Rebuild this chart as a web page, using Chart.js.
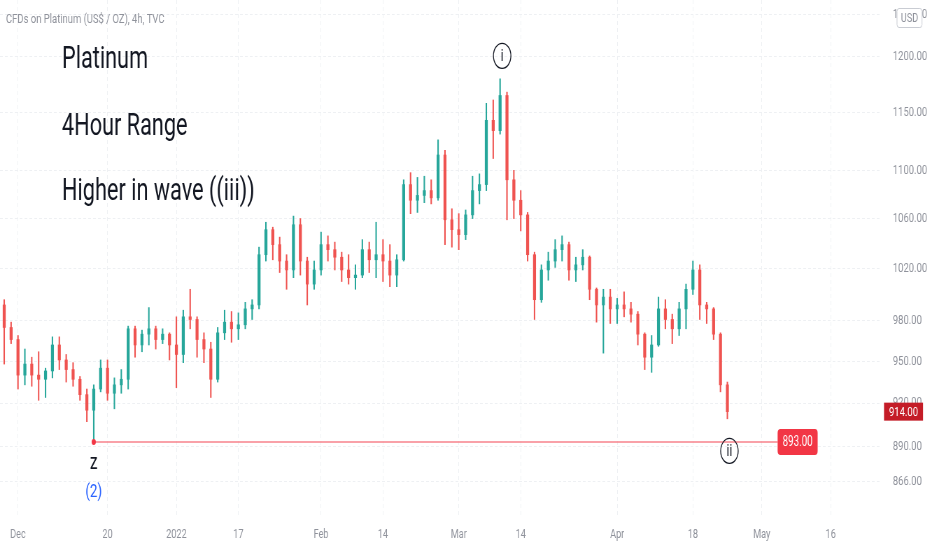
<!DOCTYPE html>
<html>
<head>
<meta charset="utf-8">
<script src="https://cdn.jsdelivr.net/npm/chart.js@4.4.0/dist/chart.umd.min.js"></script>
<style>
html, body { margin: 0; padding: 0; background: #fff; overflow: hidden; }
/* the reference screenshot is squeezed horizontally, so the chart is drawn wider and squeezed back */
#wrap { width: 1332px; height: 550px; transform: scaleX(0.6997); transform-origin: 0 0; }
</style>
</head>
<body>
<div id="wrap"><canvas id="graficoPlatina"></canvas></div>
<script>
// trading days counted from Dec 1 2021 (day 0)
const firstDay = -2;
const open = [992, 975, 966, 940, 948, 940, 937, 943, 962, 951, 944, 937, 926, 915, 930, 945, 927, 933, 937, 974,
  962, 970, 974, 966, 970, 962, 955, 983, 981, 966, 959, 937, 971, 979, 974, 977, 989, 992, 1031, 1051,
  1039, 1026, 1019, 1055, 1026, 1008, 1019, 1039, 1035, 1029, 1019, 1013, 1015, 1035, 1027, 1031, 1026, 1015, 1027, 1088,
  1075, 1079, 1083, 1077, 1113, 1059, 1051, 1047, 1063, 1083, 1088, 1143, 1134, 1165, 1092, 1075, 1063, 1031, 996, 1019,
  1026, 1035, 1039, 1019, 1023, 1029, 1004, 992, 998, 989, 992, 989, 985, 970, 953, 962, 989, 981, 974, 989,
  1004, 1019, 992, 989, 970, 933];
const high = [996, 979, 969, 959, 953, 957, 945, 968, 968, 955, 949, 939, 930, 933, 951, 951, 938, 944, 976, 976,
  973, 990, 976, 974, 971, 983, 988, 1004, 983, 971, 964, 975, 988, 987, 986, 994, 996, 1037, 1057, 1053,
  1045, 1031, 1062, 1060, 1029, 1026, 1049, 1046, 1041, 1033, 1031, 1023, 1043, 1041, 1057, 1043, 1039, 1031, 1092, 1098,
  1094, 1095, 1092, 1126, 1117, 1068, 1064, 1067, 1095, 1097, 1158, 1161, 1180, 1168, 1100, 1083, 1065, 1033, 1023, 1033,
  1043, 1046, 1041, 1029, 1035, 1030, 1005, 1004, 1004, 997, 1002, 994, 987, 971, 969, 998, 996, 985, 994, 1008,
  1026, 1023, 994, 990, 971, 935];
const low = [948, 963, 930, 933, 932, 922, 924, 938, 944, 935, 932, 922, 907, 893, 928, 922, 916, 927, 930, 953,
  957, 962, 959, 963, 951, 931, 949, 974, 953, 949, 924, 935, 966, 964, 966, 974, 981, 989, 1026, 1027,
  1017, 1004, 1013, 1015, 992, 1004, 1015, 1026, 1019, 1010, 1008, 1004, 1013, 1017, 1013, 1010, 1006, 1006, 1026, 1064,
  1065, 1073, 1072, 1075, 1039, 1037, 1035, 1043, 1060, 1072, 1083, 1110, 1131, 1059, 1060, 1050, 1026, 981, 994, 1011,
  1021, 1026, 1011, 1010, 1019, 996, 979, 956, 978, 978, 983, 979, 962, 944, 942, 961, 974, 963, 969, 974,
  1000, 981, 978, 966, 928, 909];
const close = [975, 966, 940, 948, 940, 937, 943, 962, 951, 944, 937, 926, 915, 930, 945, 927, 933, 937, 974, 962,
  970, 974, 966, 970, 962, 955, 983, 981, 966, 959, 937, 971, 979, 974, 977, 989, 992, 1031, 1051, 1039,
  1026, 1019, 1055, 1026, 1008, 1019, 1039, 1035, 1029, 1019, 1013, 1015, 1035, 1027, 1031, 1026, 1015, 1027, 1088, 1075,
  1079, 1083, 1077, 1113, 1059, 1051, 1047, 1063, 1083, 1088, 1143, 1134, 1165, 1092, 1075, 1063, 1031, 996, 1019, 1026,
  1035, 1039, 1019, 1023, 1029, 1004, 992, 998, 989, 992, 989, 985, 970, 953, 962, 989, 981, 974, 989, 1004,
  1019, 992, 989, 970, 933, 914];

const priceTicks = [866, 890, 920, 950, 980, 1020, 1060, 1100, 1150, 1200, 1240];
const dateTickDays = [0, 13, 23, 32, 44, 53, 64, 73, 87, 98, 108, 118];
const dateTickLabels = ['Dec', '20', '2022', '17', 'Feb', '14', 'Mar', '14', 'Apr', '18', 'May', '16'];

const lastPrice = 914;
const swingLow = 893;
const swingLowDay = 11;
const peakDay = 70;
const peakHigh = 1180;
const lineEndDay = 110.3;

const upColor = '#26a69a';
const downColor = '#ef5350';
const fonte = 'Roboto, "DejaVu Sans", sans-serif';
const S = 932 / 1332; // squeeze factor
const px = v => v / S;

const days = close.map((v, i) => firstDay + i);
const corCandle = ctx => close[ctx.dataIndex] >= open[ctx.dataIndex] ? upColor : downColor;

const anotacoes = {
  id: 'anotacoes',
  afterDraw(chart) {
    const c = chart.ctx;
    const xs = chart.scales.x;
    const ys = chart.scales.y;
    c.save();

    c.textAlign = 'left';
    c.textBaseline = 'middle';
    c.fillStyle = '#8f929b';
    c.font = '13.5px ' + fonte;
    c.fillText('CFDs on Platinum (US$ / OZ), 4h, TVC', px(6), 20);

    c.fillStyle = '#131722';
    c.font = '31px ' + fonte;
    c.fillText('Platinum', px(62), 60);
    c.fillText('4Hour Range', px(62), 127);
    c.fillText('Higher in wave ((iii))', px(62), 192);

    // linha do fundo
    const lx = xs.getPixelForValue(swingLowDay);
    const ly = ys.getPixelForValue(swingLow);
    const ex = xs.getPixelForValue(lineEndDay);
    c.strokeStyle = '#f7828b';
    c.lineWidth = 1.5;
    c.beginPath();
    c.moveTo(lx, ly);
    c.lineTo(ex, ly);
    c.stroke();
    c.fillStyle = '#f23645';
    c.beginPath();
    c.arc(lx, ly, 3, 0, Math.PI * 2);
    c.fill();

    c.beginPath();
    c.roundRect(ex, ly - 13, px(40), 26, 4);
    c.fill();
    c.fillStyle = '#fff';
    c.font = '14px ' + fonte;
    c.textAlign = 'center';
    c.fillText(swingLow.toFixed(2), ex + px(20), ly + 1);

    c.fillStyle = '#131722';
    c.font = '22px ' + fonte;
    c.fillText('z', lx, ly + 22);
    c.fillStyle = '#2962ff';
    c.font = '19px ' + fonte;
    c.fillText('(2)', lx, ly + 50);

    // circulos das ondas
    const circulo = (x, y, txt) => {
      c.strokeStyle = '#131722';
      c.lineWidth = 1.3;
      c.beginPath();
      c.arc(x, y, 12.5, 0, Math.PI * 2);
      c.stroke();
      c.fillStyle = '#131722';
      c.font = '17px ' + fonte;
      c.fillText(txt, x, y + 1);
    };
    circulo(xs.getPixelForValue(peakDay + 0.3), ys.getPixelForValue(peakHigh) - 23, 'i');
    circulo(xs.getPixelForValue(days[days.length - 1] + 0.3), ly + 9, 'ii');

    // preco atual
    const py = ys.getPixelForValue(lastPrice);
    c.fillStyle = '#c41c27';
    c.fillRect(px(884), py - 9, px(39), 18);
    c.fillStyle = '#fff';
    c.font = '13.5px ' + fonte;
    c.fillText(lastPrice.toFixed(2), px(903.5), py + 1);

    // USD
    c.fillStyle = '#fff';
    c.strokeStyle = '#c9ccd3';
    c.lineWidth = 1;
    c.beginPath();
    c.roundRect(px(897), 8.5, px(25), 19, 3);
    c.fill();
    c.stroke();
    c.fillStyle = '#8f929b';
    c.font = '13px ' + fonte;
    c.fillText('USD', px(909.5), 18.5);

    c.restore();
  }
};

new Chart(document.getElementById('graficoPlatina'), {
  type: 'bar',
  data: {
    datasets: [{
      label: 'pavio',
      data: days.map((d, i) => ({ x: d, y: [low[i], high[i]] })),
      backgroundColor: corCandle,
      barThickness: 1.4,
      order: 2
    }, {
      label: 'corpo',
      data: days.map((d, i) => ({ x: d, y: [open[i], close[i]] })),
      backgroundColor: corCandle,
      barThickness: 3.6,
      minBarLength: 1,
      order: 1
    }]
  },
  options: {
    responsive: true,
    maintainAspectRatio: false,
    animation: false,
    layout: { padding: 0 },
    datasets: { bar: { grouped: false } },
    plugins: {
      legend: { display: false },
      tooltip: { enabled: false }
    },
    scales: {
      x: {
        type: 'linear',
        offset: false,
        min: -2.61,
        max: 125.4,
        afterBuildTicks: s => { s.ticks = dateTickDays.map(v => ({ value: v })); },
        afterFit: s => { s.height = 35; s.paddingLeft = 0; s.paddingRight = 0; },
        ticks: {
          autoSkip: false,
          maxRotation: 0,
          padding: 12,
          color: '#8f929b',
          font: { size: 13, family: fonte },
          callback: (v, i) => dateTickLabels[i]
        },
        grid: { color: '#eef0f3', drawTicks: false, offset: false },
        border: { display: false, dash: [4, 3] }
      },
      y: {
        type: 'logarithmic',
        position: 'right',
        min: 844.3,
        max: 1253.6,
        afterBuildTicks: s => { s.ticks = priceTicks.map(v => ({ value: v })); },
        afterFit: s => { s.width = 72; s.paddingTop = 0; s.paddingBottom = 0; },
        ticks: {
          padding: 16,
          color: '#8f929b',
          font: { size: 13.5, family: fonte },
          callback: v => Number(v).toFixed(2)
        },
        grid: { color: '#eef0f3', drawTicks: false },
        border: { display: false, dash: [4, 3] }
      }
    }
  },
  plugins: [anotacoes]
});
</script>
</body>
</html>
